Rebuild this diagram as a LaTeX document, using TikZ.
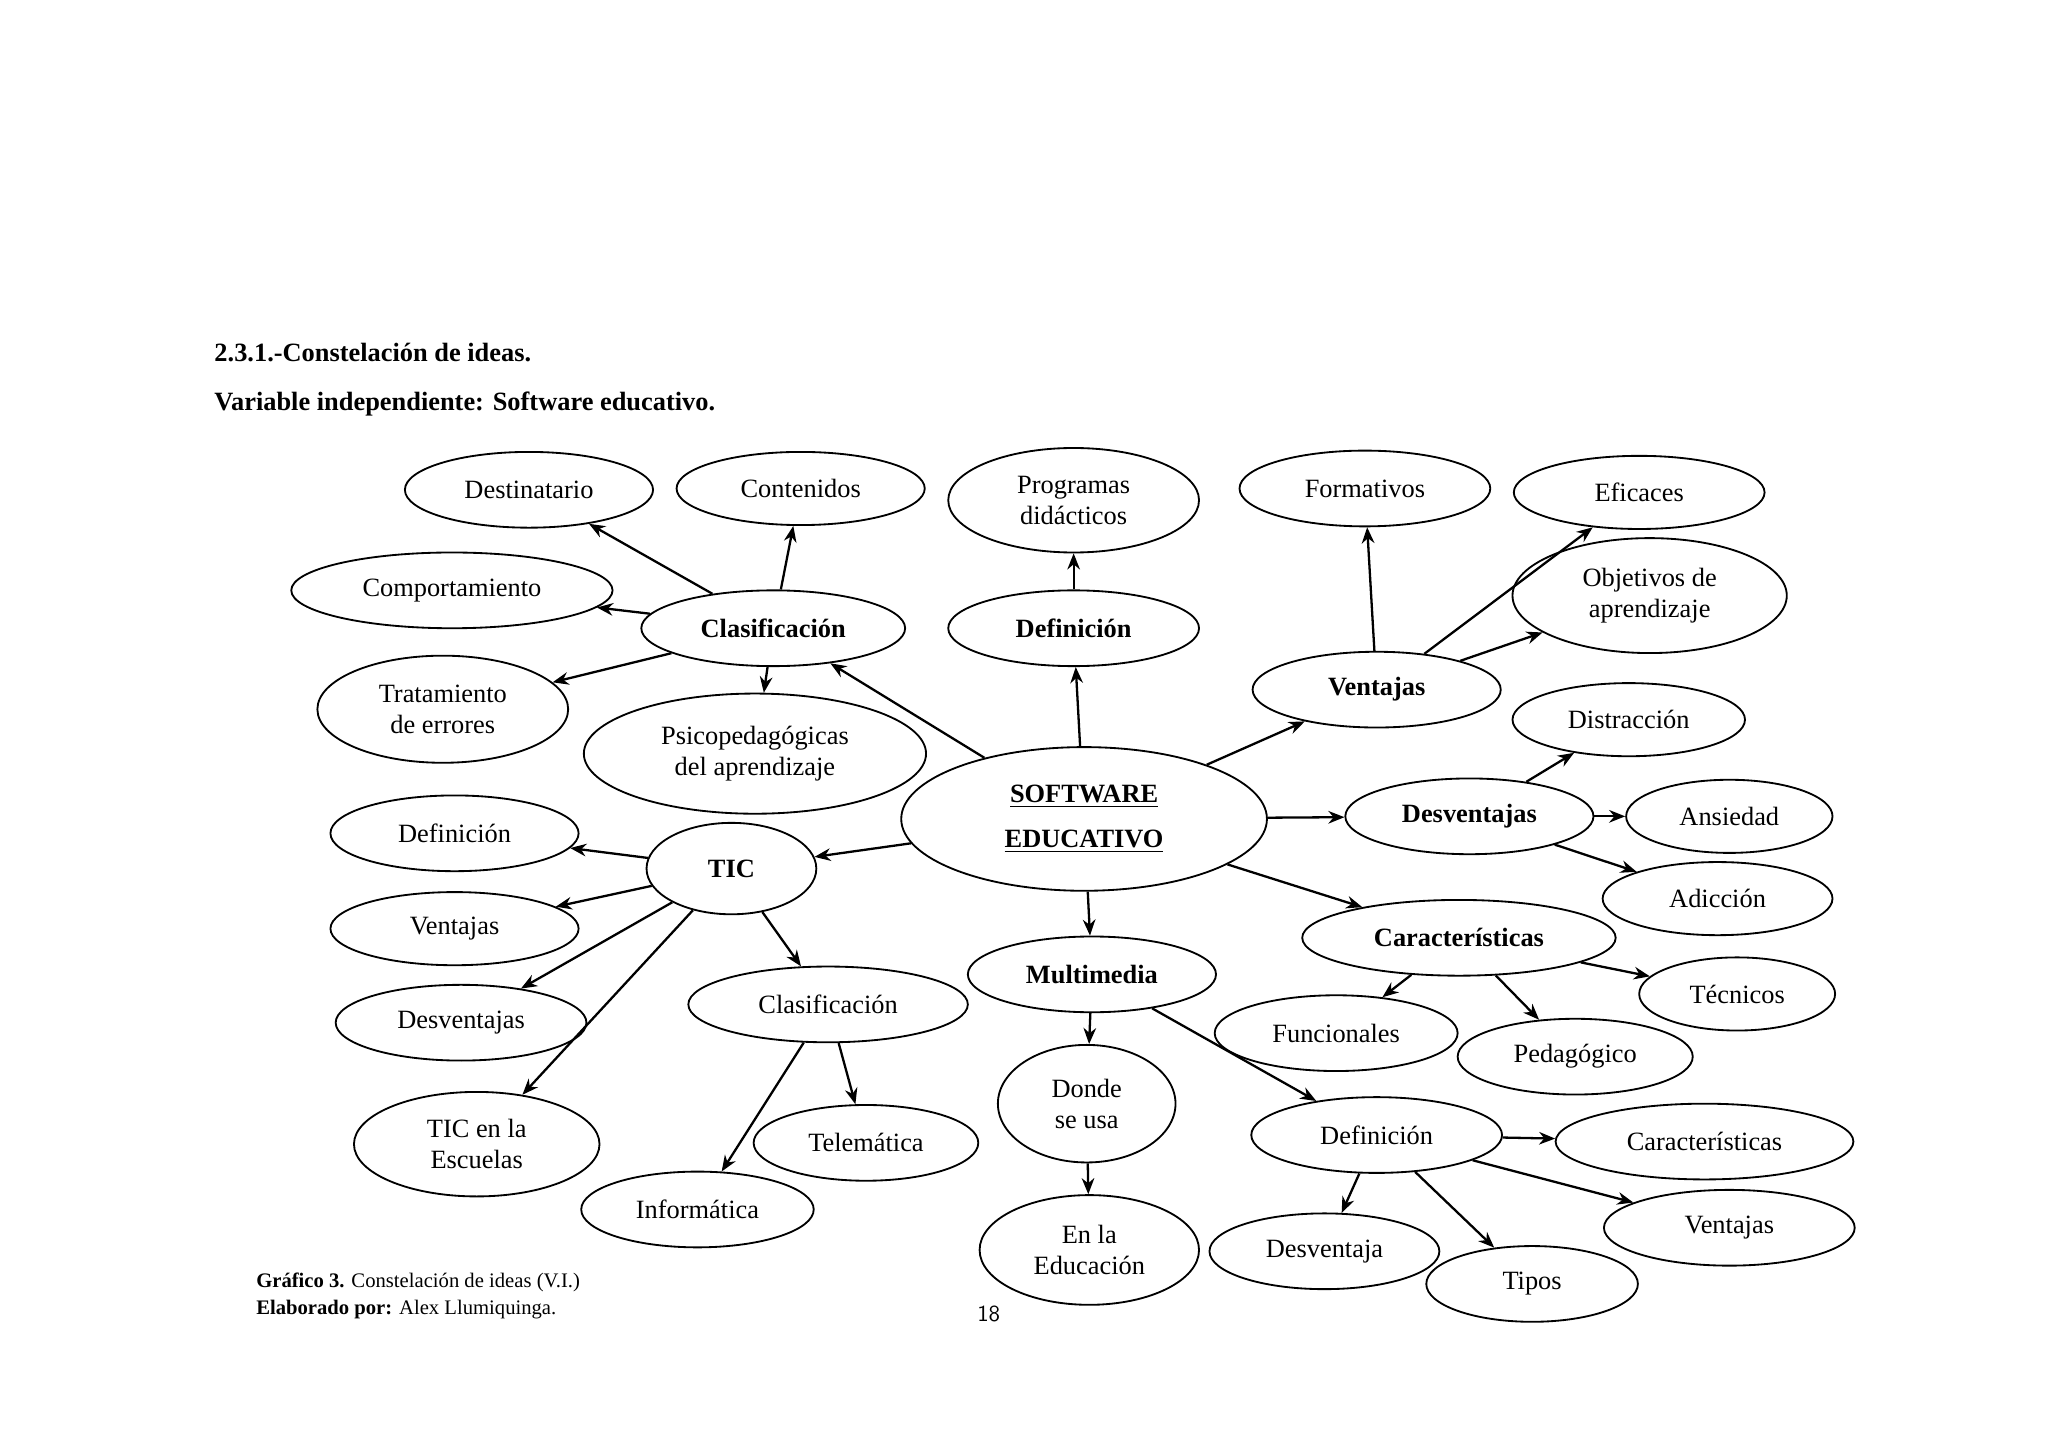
\documentclass[tikz,border=0pt]{standalone}
\usepackage{fontspec}
\setmainfont{Liberation Serif}
\usetikzlibrary{shapes.geometric,arrows.meta}
\newcommand{\E}[6]{\node[el,minimum width={#4*0.02cm},minimum height={#5*0.02cm}] (#1) at (#2,#3) {#6};}
\begin{document}
\begin{tikzpicture}[x=0.02cm,y=-0.02cm,
 el/.style={ellipse,draw,line width=0.8pt,inner sep=0pt,align=center,font=\fontsize{11.5}{13.5}\selectfont},
 ar/.style={-{Stealth[length=7pt,width=5.5pt]},line width=1pt}]
\useasboundingbox[fill=white] (0,0) rectangle (1568,1108.6);
\node[anchor=west,font=\bfseries\fontsize{11.5}{13}\selectfont] (h1) at (158,270) {2.3.1.-Constelación de ideas.};
\node[anchor=west,font=\bfseries\fontsize{11.5}{13}\selectfont] (h2) at (158,309) {Variable independiente: Software educativo.};
\node[anchor=west,font=\fontsize{9}{11}\selectfont] (c1) at (190,982) {\textbf{Gráfico 3.} Constelación de ideas (V.I.)};
\node[anchor=west,font=\fontsize{9}{11}\selectfont] (c2) at (190,1003) {\textbf{Elaborado por:} Alex Llumiquinga.};
\node[font=\sffamily\fontsize{10}{12}\selectfont] (pg) at (757,1006) {18};
\E{dest}{405}{375}{190}{58}{Destinatario}
\E{cont}{613}{374}{190}{56}{Contenidos}
\E{prog}{822}{383}{192}{80}{Programas\\didácticos}
\E{form}{1045}{374}{192}{58}{Formativos}
\E{efic}{1255}{377}{192}{56}{Eficaces}
\E{comp}{346}{452}{246}{58}{Comportamiento}
\E{clas}{592}{481}{202}{58}{\textbf{Clasificación}}
\E{defi}{822}{481}{192}{58}{\textbf{Definición}}
\E{obje}{1263}{456}{210}{88}{Objetivos de\\aprendizaje}
\E{vent}{1054}{528}{190}{58}{\textbf{Ventajas}}
\E{trat}{339}{543}{192}{82}{Tratamiento\\de errores}
\E{psic}{578}{577}{262}{92}{Psicopedagógicas\\del aprendizaje}
\E{dist}{1247}{551}{178}{56}{Distracción}
\node[el,minimum width={280*0.02cm},minimum height={110*0.02cm}] (sw) at (830,627) {\textbf{\underline{SOFTWARE}}\\[6pt]\textbf{\underline{EDUCATIVO}}};
\E{desv}{1125}{625}{190}{58}{\textbf{Desventajas}}
\E{ansi}{1324}{625}{158}{56}{Ansiedad}
\E{tdef}{348}{638}{190}{58}{Definición}
\E{tic}{560}{665}{130}{70}{\textbf{TIC}}
\E{adic}{1315}{688}{176}{56}{Adicción}
\E{tven}{348}{711}{190}{56}{Ventajas}
\E{cara}{1117}{718}{240}{58}{\textbf{Características}}
\E{mult}{836}{746}{190}{58}{\textbf{Multimedia}}
\E{tecn}{1330}{761}{150}{56}{Técnicos}
\E{tcla}{634}{769}{214}{58}{Clasificación}
\E{tdes}{353}{783}{192}{58}{Desventajas}
\E{func}{1023}{791}{186}{58}{Funcionales}
\E{peda}{1206}{809}{180}{58}{Pedagógico}
\E{dond}{832}{845}{136}{90}{Donde\\se usa}
\E{tesc}{365}{876}{188}{80}{TIC en la\\Escuelas}
\E{tele}{663}{875}{172}{58}{Telemática}
\E{mdef}{1054}{869}{192}{58}{Definición}
\E{mcar}{1305}{874}{228}{58}{Características}
\E{info}{534}{926}{178}{58}{Informática}
\E{educ}{834}{957}{168}{84}{En la\\Educación}
\E{mdes}{1014}{958}{176}{58}{Desventaja}
\E{mven}{1324}{940}{192}{58}{Ventajas}
\E{tipo}{1173}{983}{162}{58}{Tipos}
\foreach \a/\b in {clas/dest,clas/cont,clas/comp,clas/trat,clas/psic,
 sw/clas,sw/defi,sw/vent,sw/desv,sw/cara,sw/mult,sw/tic,defi/prog,
 vent/form,vent/efic,vent/obje,desv/dist,desv/ansi,desv/adic,
 tic/tdef,tic/tven,tic/tdes,tic/tesc,tic/tcla,tcla/info,tcla/tele,
 cara/func,cara/peda,cara/tecn,mult/dond,mult/mdef,dond/educ,
 mdef/mcar,mdef/mven,mdef/mdes,mdef/tipo}
 \draw[ar] (\a) -- (\b);
\end{tikzpicture}
\end{document}
